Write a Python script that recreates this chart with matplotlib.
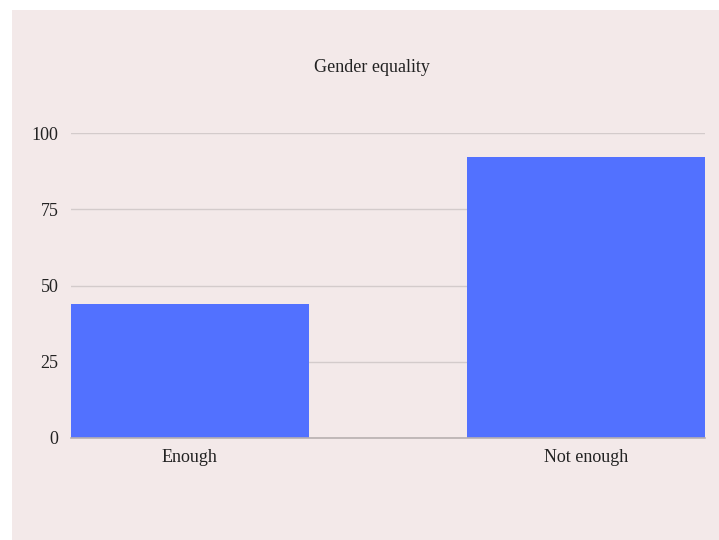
import matplotlib
matplotlib.use("Agg")
import matplotlib.pyplot as plt
from matplotlib.patches import Rectangle

categories = ["Enough", "Not enough"]
values = [44, 92]
yticks = [0, 25, 50, 75, 100]

bg = "#f3e9e9"
bar_color = "#5271ff"

plt.rcParams["font.family"] = ["Liberation Serif", "DejaVu Serif"]

fig = plt.figure(figsize=(7.19, 5.4), dpi=100, facecolor="white")
# pink panel, offset from the top-left corner
fig.patches.append(Rectangle((12 / 719, 0), 1, 1 - 10 / 540, transform=fig.transFigure,
                             facecolor=bg, edgecolor="none", zorder=-10))

ax = fig.add_axes([71 / 719, 1 - 438 / 540, (705 - 71) / 719, (438 - 133) / 540])
ax.set_facecolor(bg)
ax.patch.set_alpha(0)

x = range(len(categories))
ax.bar(x, values, width=0.6, color=bar_color, zorder=3)
ax.set_xlim(-0.3, 1.3)
ax.set_ylim(0, 100)
ax.set_yticks(yticks)
ax.set_xticks(list(x))
ax.set_xticklabels(categories)

ax.grid(axis="y", color="#d3cbcb", linewidth=1, zorder=1)
for s in ["top", "right", "left"]:
    ax.spines[s].set_visible(False)
ax.spines["bottom"].set_color("#b8b0b0")
ax.spines["bottom"].set_linewidth(1.2)
ax.spines["bottom"].set_zorder(4)
ax.tick_params(axis="both", length=0, labelsize=13, colors="#222222")
ax.tick_params(axis="y", pad=9)
ax.tick_params(axis="x", pad=8)

fig.text(372 / 719, 1 - 67 / 540, "Gender equality", ha="center", va="center",
         fontsize=13, color="#222222")

fig.savefig("out.png", dpi=100, facecolor=fig.get_facecolor())
